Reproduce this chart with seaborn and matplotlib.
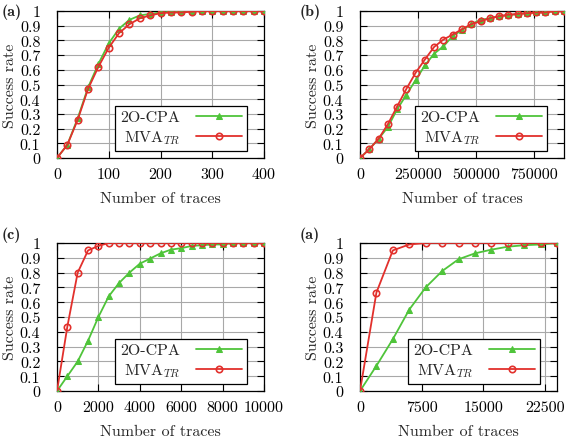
import numpy as np
import pandas as pd
import matplotlib
matplotlib.use("Agg")
import matplotlib.pyplot as plt
import seaborn as sns

# ---------------- data ----------------
x_a = list(range(0, 401, 20))
cpa_a = [0, 0.09, 0.27, 0.48, 0.64, 0.78, 0.88, 0.94, 0.97, 0.98, 0.99,
         0.995, 1, 1, 1, 1, 1, 1, 1, 1, 1]
mva_a = [0, 0.09, 0.26, 0.47, 0.62, 0.75, 0.85, 0.91, 0.95, 0.97, 0.985,
         0.99, 0.99, 0.995, 1, 1, 1, 1, 1, 1, 1]

x_b = list(range(0, 880001, 40000))
cpa_b = [0, 0.06, 0.13, 0.21, 0.33, 0.43, 0.53, 0.63, 0.71, 0.76, 0.83, 0.87,
         0.91, 0.94, 0.95, 0.965, 0.97, 0.98, 0.985, 0.99, 0.99, 1, 1]
mva_b = [0, 0.06, 0.13, 0.23, 0.35, 0.47, 0.58, 0.67, 0.756, 0.806, 0.84, 0.876,
         0.91, 0.93, 0.95, 0.965, 0.975, 0.98, 0.985, 0.99, 0.99, 1, 1]

x_c = list(range(0, 10001, 500))
cpa_c = [0, 0.10, 0.20, 0.34, 0.50, 0.64, 0.73, 0.80, 0.86, 0.895, 0.93,
         0.955, 0.965, 0.98, 0.985, 0.99, 0.99, 1, 1, 1, 1]
mva_c = [0, 0.435, 0.80, 0.95, 0.98, 1, 1, 1, 1, 1, 1,
         1, 1, 1, 1, 1, 1, 1, 1, 1, 1]

x_d = list(range(0, 24001, 2000))
cpa_d = [0, 0.17, 0.35, 0.55, 0.70, 0.81, 0.89, 0.93, 0.955, 0.975, 0.985, 0.99, 1]
mva_d = [0, 0.665, 0.95, 0.99, 1, 1, 1, 1, 1, 1, 1, 1, 1]

panel_labels = ["(a)", "(b)", "(c)", "(a)"]
xticks_list = [[0, 100, 200, 300, 400],
               [0, 250000, 500000, 750000],
               [0, 2000, 4000, 6000, 8000, 10000],
               [0, 7500, 15000, 22500]]
xlims = [(0, 400), (0, 880000), (0, 10000), (0, 24000)]
series_names = ["2O-CPA", r"MVA$_{TR}$"]

# ---------------- style ----------------
sns.set_theme(style="ticks")
plt.rcParams["font.family"] = ["cmr10", "DejaVu Serif"]
plt.rcParams["mathtext.fontset"] = "cm"
plt.rcParams["axes.formatter.use_mathtext"] = True
plt.rcParams["axes.unicode_minus"] = False

GREEN = "#4fc43a"
RED = "#e2302c"
FS = 11.5

fig = plt.figure(figsize=(5.68, 4.39), dpi=100)
# (left, top, right, bottom) in pixels
boxes = [(57, 12, 264, 159), (360, 12, 564, 159),
         (57, 244, 264, 392), (360, 244, 557, 392)]
label_px = [(2, 12), (300, 12), (2, 235), (300, 235)]
datasets = [(x_a, cpa_a, mva_a), (x_b, cpa_b, mva_b),
            (x_c, cpa_c, mva_c), (x_d, cpa_d, mva_d)]

for i, (bx, (xs, cpa, mva)) in enumerate(zip(boxes, datasets)):
    l, t, r, b = bx
    w, h = r - l, b - t
    ax = fig.add_axes([l / 568, 1 - b / 439, w / 568, h / 439])
    df = pd.DataFrame({
        "x": list(xs) * 2,
        "y": list(cpa) + list(mva),
        "series": [series_names[0]] * len(xs) + [series_names[1]] * len(xs),
    })
    sns.lineplot(data=df[df.series == series_names[0]], x="x", y="y", ax=ax,
                 color=GREEN, marker="^", markersize=4.2, markeredgecolor=GREEN,
                 linewidth=1.3, label=series_names[0], zorder=3)
    sns.lineplot(data=df[df.series == series_names[1]], x="x", y="y", ax=ax,
                 color=RED, marker="o", markersize=4.6, markerfacecolor="none",
                 markeredgecolor=RED, markeredgewidth=1.2,
                 linewidth=1.3, label=series_names[1], zorder=4)
    ax.set_xlim(*xlims[i])
    ax.set_ylim(0, 1)
    ax.set_xticks(xticks_list[i])
    ax.set_xticklabels([str(tk) for tk in xticks_list[i]])
    yt = [round(v * 0.1, 1) for v in range(11)]
    ax.set_yticks(yt)
    ax.set_yticklabels(["0" if v == 0 else ("1" if v == 1 else f"{v:.1f}") for v in yt])
    ax.grid(True, color="#a8a8a8", linewidth=0.8)
    ax.tick_params(direction="in", length=5, width=0.8, labelsize=FS, colors="black",
                   top=True, right=True)
    ax.tick_params(axis="y", pad=12)
    ax.tick_params(axis="x", pad=7)
    for s in ax.spines.values():
        s.set_linewidth(0.9)
        s.set_color("black")
    ax.set_xlabel("Number of traces", fontsize=FS, labelpad=7)
    ax.set_ylabel("Success rate", fontsize=FS, labelpad=2)
    leg = ax.legend(loc="lower right", bbox_to_anchor=(1 - 17 / w, 7 / h),
                    fontsize=FS, frameon=True, fancybox=False,
                    edgecolor="black", framealpha=1, markerfirst=False,
                    handlelength=2.9, borderpad=0.3, labelspacing=0.25,
                    handletextpad=1.0, borderaxespad=0.0)
    leg.get_frame().set_linewidth(0.9)
    lx, ly = label_px[i]
    fig.text(lx / 568, 1 - ly / 439, panel_labels[i],
             fontsize=FS, family=["cmb10", "DejaVu Serif"], fontweight="bold",
             ha="left", va="center")

fig.savefig("out.png", dpi=100)
